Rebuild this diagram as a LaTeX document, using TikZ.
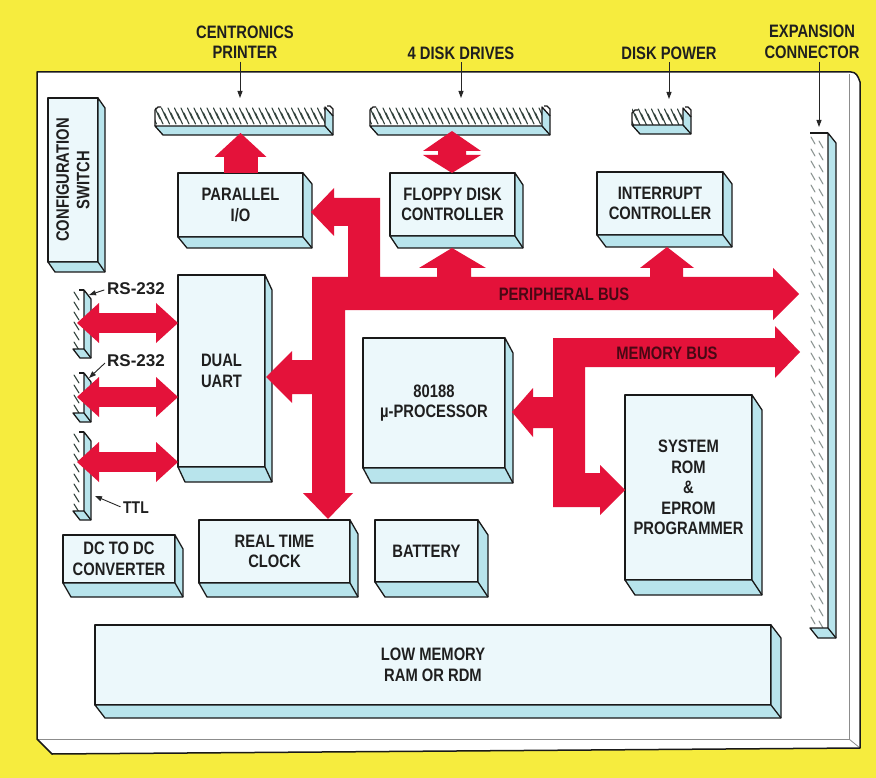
\documentclass[tikz,border=0pt]{standalone}
\usepackage{fontspec}
\setmainfont{Liberation Sans}[FakeStretch=0.82]
\newfontfamily\wideface{Liberation Sans}
\usetikzlibrary{arrows.meta,calc}
\definecolor{bgyel}{RGB}{246,236,62}
\definecolor{facec}{RGB}{236,248,251}
\definecolor{sidec}{RGB}{184,228,236}
\definecolor{busred}{RGB}{228,18,58}
\definecolor{buslbl}{RGB}{72,8,20}
\definecolor{hatchc}{RGB}{50,66,60}
\newcommand\extr[3]{%
  \filldraw[sidest] (#1.north east) -- ++(#2,#3) -- ([shift={(#2,#3)}]#1.south east) -- ([shift={(#2,#3)}]#1.south west) -- (#1.south west) -- (#1.south east) -- cycle;
  \draw[sidest] (#1.south east) -- ++(#2,#3);}
\newcommand\mkbox[6]{\node[box, minimum width={#4-#2}, minimum height={#5-#3}] (#1) at ({(#2+#4)/2},{(#3+#5)/2}) {#6};}
\begin{document}
\begin{tikzpicture}[x=1pt,y=-1pt,line join=round,
  lbl/.style={font=\fontsize{18}{20.5}\selectfont\bfseries, text=black!88, align=center, inner sep=0pt, outer sep=0pt},
  smlbl/.style={font=\fontsize{17}{19}\selectfont\bfseries, text=black!88, inner sep=0pt, outer sep=0pt},
  box/.style={lbl, draw=black!90, line width=1.3pt, fill=facec},
  sidest/.style={draw=black!90, line width=1.3pt, fill=sidec},
  outl/.style={draw=black!90, line width=1.3pt},
  thinl/.style={draw=black!45, line width=0.8pt},
  hatchline/.style={draw=hatchc, line width=1.1pt, line cap=round},
  hconn/.style={inner sep=0pt, outer sep=0pt, fill=white, path picture={
      \foreach \k in {-2,...,30}{
        \draw[hatchline] ([xshift={\k*6.5},yshift=-1]path picture bounding box.north west) -- ++(5,11);
        \draw[hatchline] ([xshift={\k*6.5+3},yshift=-6]path picture bounding box.north west) -- ++(5,11);}}},
  vconn/.style={inner sep=0pt, outer sep=0pt, fill=white, path picture={
      \foreach \k in {0,...,9}{
        \draw[hatchline] ([xshift=1,yshift={-\k*10-2}]path picture bounding box.north west) -- ++(5,8);}}},
  vconnb/.style={inner sep=0pt, outer sep=0pt, fill=white, path picture={
      \foreach \k in {0,...,42}{
        \draw[hatchline, draw=hatchc!55] ([xshift=1,yshift={-\k*12-4}]path picture bounding box.north west) -- ++(4,7);
        \draw[hatchline, draw=hatchc!55] ([xshift=9,yshift={-\k*12-8}]path picture bounding box.north west) -- ++(4,7);}}},
  ptr/.style={draw=black!85, line width=0.9pt, shorten <=3pt, -{Triangle[length=7pt,width=5pt]}},
  bus/.style={fill=busred},
  buslab/.style={lbl, text=buslbl},
  dblhead/.style={{Triangle[length=22pt,width=40pt,line width=0pt]}-{Triangle[length=22pt,width=40pt,line width=0pt]}}
]
\useasboundingbox[fill=bgyel] (0,0) rectangle (876,778);

% board
\fill[white] (37,72) -- (851,72) .. controls (856,72) and (858,76) .. (860,82) -- (860,748) -- (52,754) -- (37,739) -- cycle;
\draw[thinl] (849,74) -- (849,739) -- (38,739);
\draw[thinl] (849,739) -- (860,748);
\draw[outl, line width=1.5pt] (37,739) -- (37,72) -- (851,72) .. controls (856,72) and (858,76) .. (860,82) -- (860,748) -- (52,754) -- cycle;

% top connectors
\node[hconn, minimum width=170, minimum height=19] (centr) at (240,116.5) {};
\extr{centr}{8}{9}
\draw[outl] (centr.south west) -- ++(0,-16) -- ++(3,-3) -- ++(3,0);
\draw[outl] ([shift={(8,9)}]centr.north east) -- ++(0,-7) -- ++(-3,-3) -- ++(-3,0);

\node[hconn, minimum width=172, minimum height=19] (disk) at (456,116.5) {};
\extr{disk}{8}{9}
\draw[outl] (disk.south west) -- ++(0,-16) -- ++(3,-3) -- ++(3,0);
\draw[outl] ([shift={(8,9)}]disk.north east) -- ++(0,-7) -- ++(-3,-3) -- ++(-3,0);

\node[hconn, minimum width=51, minimum height=17] (power) at (657.5,116.5) {};
\extr{power}{8}{9}
\draw[outl] (power.south west) -- ++(0,-12) -- ++(3,-3) -- ++(3,0);
\draw[outl] ([shift={(8,9)}]power.north east) -- ++(0,-7) -- ++(-3,-3) -- ++(-3,0);

% expansion connector
\node[vconnb, minimum width=18, minimum height=495] (expc) at (819,380.5) {};
\extr{expc}{8}{10}
\draw[outl] (expc.north west) -- (expc.north east);

% serial connectors
\node[vconn, minimum width=11, minimum height=59] (rs1) at (78.5,319.5) {};
\extr{rs1}{7}{9}
\draw[outl] (rs1.north east) -- ++(-5,0);
\node[vconn, minimum width=11, minimum height=40] (rs2) at (78.5,393) {};
\extr{rs2}{7}{9}
\draw[outl] (rs2.north east) -- ++(-5,0);
\node[vconn, minimum width=11, minimum height=79] (rs3) at (78.5,471.5) {};
\extr{rs3}{7}{9}
\draw[outl] (rs3.north east) -- ++(-5,0);

% boxes
\mkbox{cfg}{48}{98}{98}{262}{}
\extr{cfg}{7}{10}
\node[lbl, rotate=90] (cfgt) at (cfg.center) {CONFIGURATION\\SWITCH};
\mkbox{parallel}{178}{173}{303}{237}{PARALLEL\\I/O}
\extr{parallel}{9}{11}
\mkbox{floppy}{390}{173}{515}{236}{FLOPPY DISK\\CONTROLLER}
\extr{floppy}{8}{12}
\mkbox{intr}{597}{172}{723}{235}{INTERRUPT\\CONTROLLER}
\extr{intr}{9}{12}
\mkbox{uart}{178}{275}{265}{467}{DUAL\\UART}
\extr{uart}{7}{15}
\mkbox{cpu}{363}{338}{505}{468}{80188\\µ-PROCESSOR}
\extr{cpu}{8}{15}
\mkbox{rom}{625}{395}{752}{580}{SYSTEM\\ROM\\\&\\EPROM\\PROGRAMMER}
\extr{rom}{10}{15}
\mkbox{rtc}{199}{520}{350}{583}{REAL TIME\\CLOCK}
\extr{rtc}{8}{14}
\mkbox{batt}{375}{520}{478}{582}{BATTERY}
\extr{batt}{10}{15}
\mkbox{dcdc}{63}{535}{175}{583}{DC TO DC\\CONVERTER}
\extr{dcdc}{8}{14}
\mkbox{lowmem}{95}{625}{771}{705}{LOW MEMORY\\RAM OR RDM}
\extr{lowmem}{10}{13}

% peripheral bus
\fill[bus] (311,212) -- (334,188) -- (334,198) -- (380,198) -- (380,277) -- (437,277) -- (437,268) -- (419,268) -- (452,248) -- (486,268) -- (471,268) -- (471,277) -- (650,277) -- (650,268) -- (640,268) -- (667,247) -- (694,268) -- (683,268) -- (683,277) -- (773,277) -- (773,268) -- (799,294) -- (773,320) -- (773,310) -- (345,310) -- (345,493) -- (353,493) -- (328,519) -- (303,493) -- (312,493) -- (312,394) -- (292,394) -- (292,403) -- (266,377) -- (292,351) -- (292,360) -- (312,360) -- (312,277) -- (348,277) -- (348,226) -- (334,226) -- (334,236) -- cycle;
% memory bus
\fill[bus] (512,412) -- (533,388) -- (533,397) -- (553,397) -- (553,338) -- (775,338) -- (775,326) -- (800,352) -- (775,378) -- (775,367) -- (585,367) -- (585,473) -- (600,473) -- (600,465) -- (625,490) -- (600,515) -- (600,507) -- (553,507) -- (553,428) -- (533,428) -- (533,437) -- cycle;
% floppy <-> disk drives
\fill[bus] (452,131) -- (481,151) -- (466,151) -- (466,155) -- (481,155) -- (452,173) -- (423,155) -- (438,155) -- (438,151) -- (423,151) -- cycle;

% fat arrows
\draw[busred, line width=34pt, -{Triangle[length=24pt,width=52pt,line width=0pt]}, shorten >=7pt] (parallel.north) -- (parallel.north |- centr.south);
\coordinate (ya) at (0,323);
\coordinate (yb) at (0,397);
\coordinate (yc) at (0,462);
\draw[busred, line width=20pt, dblhead, shorten <=-7pt] (rs1.east |- ya) -- (uart.west |- ya);
\draw[busred, line width=20pt, dblhead, shorten <=-7pt] (rs2.east |- yb) -- (uart.west |- yb);
\draw[busred, line width=20pt, dblhead, shorten <=-7pt] (rs3.east |- yc) -- (uart.west |- yc);

\node[buslab] (pbus) at (564,294) {PERIPHERAL BUS};
\node[buslab] (mbus) at (667,353) {MEMORY BUS};

% labels
\node[lbl] (lcent) at (245,42) {CENTRONICS\\PRINTER};
\node[lbl] (ldisk) at (461,53) {4 DISK DRIVES};
\node[lbl] (lpow) at (669,53) {DISK POWER};
\node[lbl] (lexp) at (812,42) {EXPANSION\\CONNECTOR};
\draw[ptr] (lcent.south -| centr.north) -- ($(centr.north)+(0,-9)$);
\draw[ptr] (ldisk.south) -- ($(ldisk.south |- disk.north)+(0,-9)$);
\draw[ptr] (lpow.south) -- ($(lpow.south |- power.north)+(0,-9)$);
\draw[ptr] (lexp.south -| expc.north) -- ($(expc.north)+(0,-6)$);

\node[smlbl, font=\fontsize{17}{19}\selectfont\wideface\bfseries] (lrs1) at (136,289) {RS-232};
\node[smlbl, font=\fontsize{17}{19}\selectfont\wideface\bfseries] (lrs2) at (136,361) {RS-232};
\node[smlbl] (lttl) at (136,508) {TTL};
\draw[ptr] (lrs1.west) -- ($(rs1.north east)+(5,5)$);
\draw[ptr] (lrs2.west) -- ($(rs2.north east)+(5,5)$);
\draw[ptr] (lttl.west) -- ($(rs3.south east)+(11,-15)$);
\end{tikzpicture}
\end{document}
